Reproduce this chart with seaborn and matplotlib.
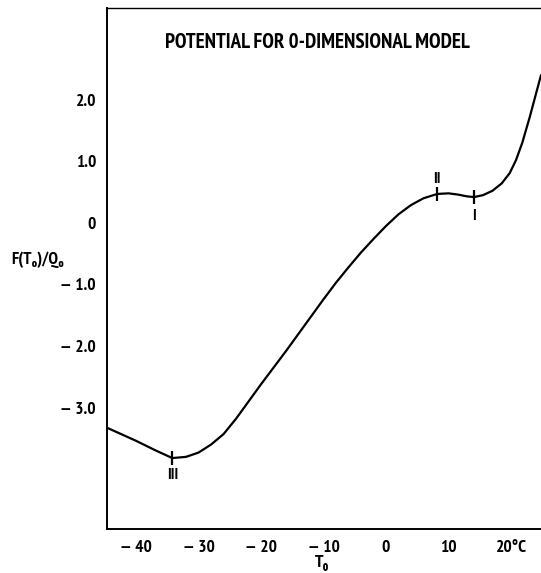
import numpy as np
import pandas as pd
import matplotlib
matplotlib.use("Agg")
import matplotlib.pyplot as plt
import seaborn as sns

# curve
t0 = [-44.6, -40.0, -37.0, -34.2, -32.0, -30.0, -28.0, -26.0, -24.0, -22.0, -20.0,
      -18.0, -16.0, -14.0, -12.0, -10.0, -8.0, -6.0, -4.0, -2.0, 0.0, 2.0, 4.0,
      6.0, 8.2, 10.0, 11.5, 13.0, 14.1, 15.5, 17.0, 18.5, 19.8, 20.8, 21.8, 23.0, 24.8]
f_over_q = [-3.33, -3.54, -3.69, -3.82, -3.80, -3.73, -3.60, -3.43, -3.18, -2.90, -2.62,
            -2.35, -2.08, -1.80, -1.52, -1.24, -0.97, -0.72, -0.48, -0.26, -0.05, 0.14, 0.29,
            0.40, 0.47, 0.48, 0.46, 0.43, 0.42, 0.45, 0.52, 0.64, 0.81, 1.02, 1.30, 1.72, 2.40]

# equilibrium states
eq_names = ["III", "II", "I"]
eq_t = [-34.2, 8.2, 14.1]
eq_f = [-3.82, 0.47, 0.42]
eq_label_dy = [-12.5, 10.5, -13.5]

xticks = [-40, -30, -20, -10, 0, 10, 20]
xticklabels = ["— 40", "— 30", "— 20", "— 10", "0", "10", "20°C"]
yticks = [-3, -2, -1, 0, 1, 2]
yticklabels = ["— 3.0", "— 2.0", "— 1.0", "0", "1.0", "2.0"]

sns.set_theme(style="white")
plt.rcParams['font.family'] = ['PT Sans Narrow', 'Roboto Condensed', 'Barlow Condensed', 'DejaVu Sans']
plt.rcParams['font.weight'] = 'bold'
plt.rcParams['text.color'] = 'black'

df = pd.DataFrame({"T": t0, "F": f_over_q})

fig = plt.figure(figsize=(5.41, 5.73), dpi=100)
ax = fig.add_axes([0.198, 0.077, 0.802, 0.909])

sns.lineplot(data=df, x="T", y="F", color="black", linewidth=1.6, ax=ax, sort=False)
ax.plot(eq_t, eq_f, linestyle="none", marker="|", markersize=10, markeredgewidth=1.6, color="black")
for name, tx, fy, dy in zip(eq_names, eq_t, eq_f, eq_label_dy):
    ax.annotate(name, (tx, fy), xytext=(0, dy), textcoords="offset points",
                ha="center", va="center", fontsize=11.5, fontweight="bold", color="black")

ax.set_xlim(-44.64, 24.8)
ax.set_ylim(-4.97, 3.49)
ax.set_xticks(xticks)
ax.set_xticklabels(xticklabels)
ax.set_yticks(yticks)
ax.set_yticklabels(yticklabels)
ax.tick_params(direction="in", length=6, width=1.5, labelsize=12.5, colors="black", pad=8)
for lab in ax.get_xticklabels() + ax.get_yticklabels():
    lab.set_fontweight("bold")

for side in ["left", "bottom", "top"]:
    ax.spines[side].set_color("black")
    ax.spines[side].set_linewidth(1.4)
ax.spines["top"].set_linewidth(1.0)
ax.spines["right"].set_visible(False)

ax.set_xlabel("T₀", fontsize=13, fontweight="bold", color="black", va="center")
ax.xaxis.set_label_coords(0.495, -0.066)
ax.set_ylabel("F(T₀)/Q₀", fontsize=12.5, fontweight="bold", color="black",
              rotation=0, ha="center", va="center")
ax.yaxis.set_label_coords(-0.161, 0.516)

ax.text(0.484, 0.933, "POTENTIAL FOR 0-DIMENSIONAL MODEL", transform=ax.transAxes,
        ha="center", va="center", fontsize=15, fontweight="bold", color="black")

fig.savefig("out.png", dpi=100)
